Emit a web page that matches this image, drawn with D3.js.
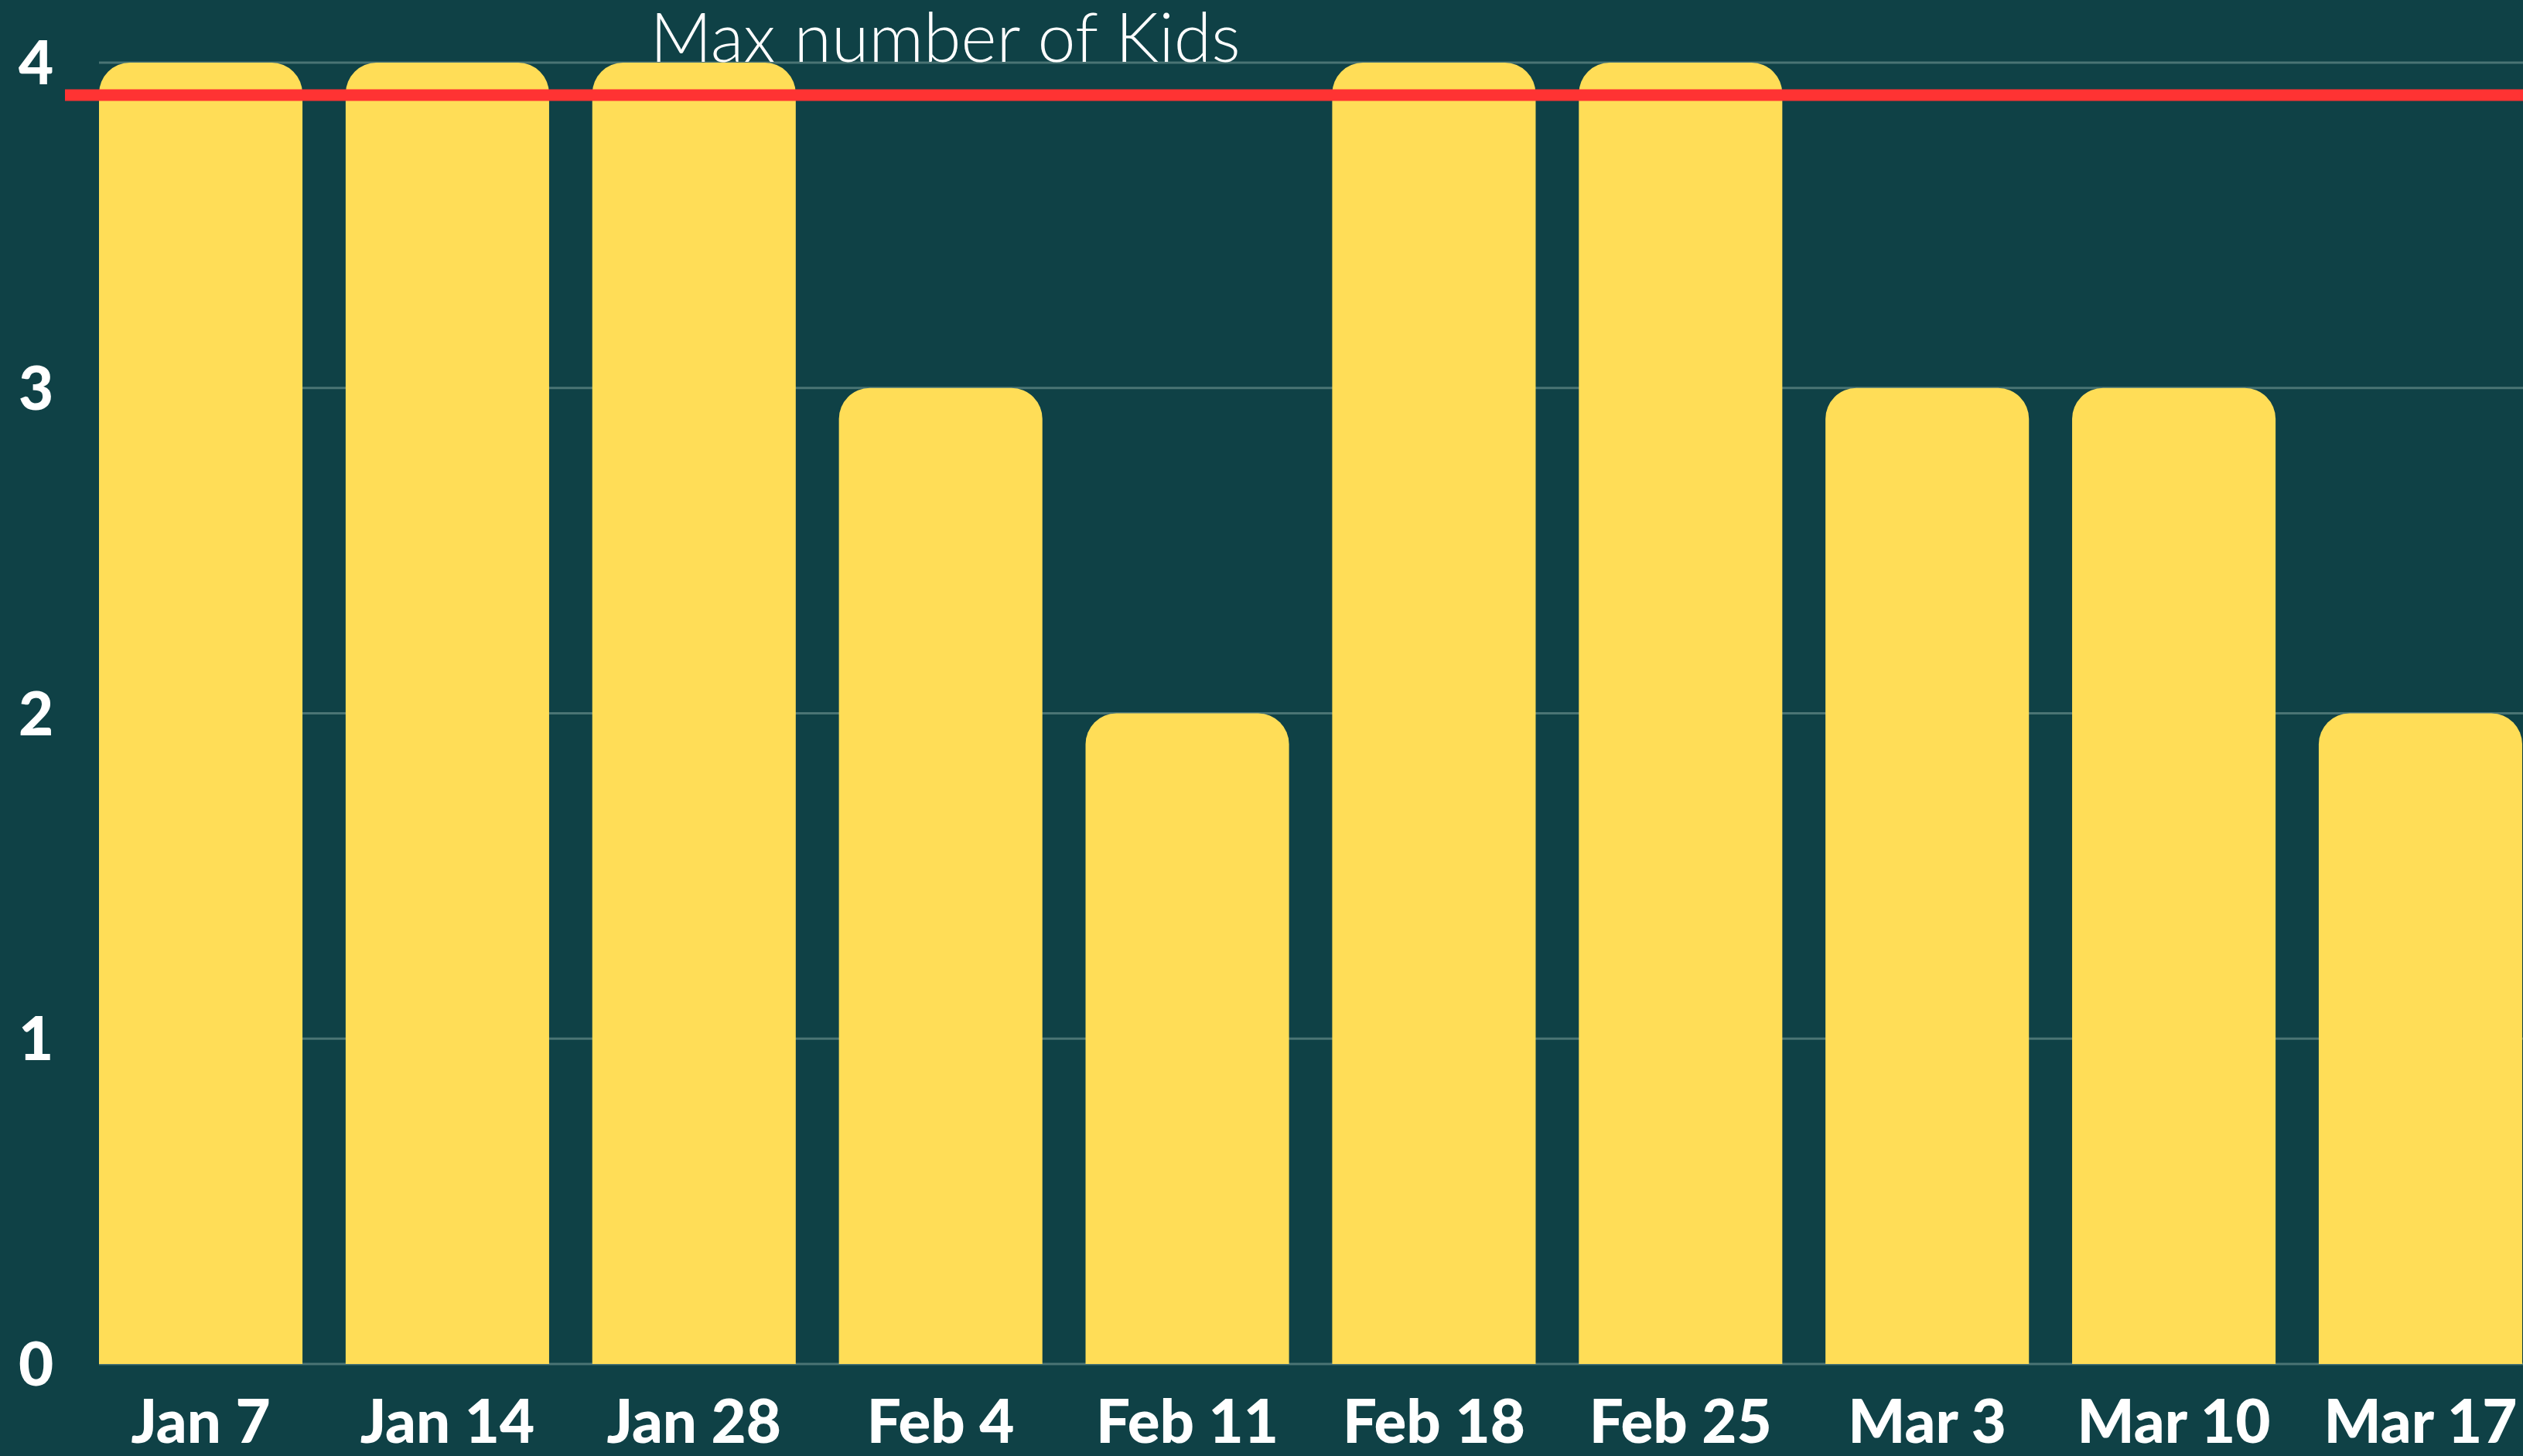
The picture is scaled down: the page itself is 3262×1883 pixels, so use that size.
<!DOCTYPE html>
<html><head><meta charset="utf-8">
<script src="https://cdn.jsdelivr.net/npm/d3@7"></script>
<style>html,body{margin:0;padding:0;background:#0f4146;}svg{display:block;}</style>
</head><body>
<svg id="chart" width="3262" height="1883"></svg>
<script>
const categories = ["Jan 7","Jan 14","Jan 28","Feb 4","Feb 11","Feb 18","Feb 25","Mar 3","Mar 10","Mar 17"];
const kids = [4,4,4,3,2,4,4,3,3,2];
const yTicks = [0,1,2,3,4];
const maxKids = 3.9;
const maxLabel = "Max number of Kids";

const W = 3262, H = 1883;
const svg = d3.select("#chart");
svg.append("rect").attr("width",W).attr("height",H).attr("fill","#0f4146");

const x = d3.scaleBand().domain(categories).range([128,3261]).paddingInner(0.175).paddingOuter(0);
const y = d3.scaleLinear().domain([0,4]).range([1764,81]);

// gridlines
svg.append("g").selectAll("line").data(yTicks).join("line")
  .attr("x1",128).attr("x2",W)
  .attr("y1",d=>y(d)).attr("y2",d=>y(d))
  .attr("stroke","#4a7474").attr("stroke-width",3);

// bars with rounded top corners
const r = 40;
function barPath(d,i){
  const x0 = x(categories[i]), w = x.bandwidth(), y0 = y(d), yb = y(0);
  const rr = Math.min(r, (yb-y0));
  return `M${x0},${yb}V${y0+rr}A${rr},${rr} 0 0 1 ${x0+rr},${y0}H${x0+w-rr}A${rr},${rr} 0 0 1 ${x0+w},${y0+rr}V${yb}Z`;
}
svg.append("g").selectAll("path").data(kids).join("path")
  .attr("d",(d,i)=>barPath(d,i)).attr("fill","#ffdd57");

// y axis labels
svg.append("g").selectAll("text").data(yTicks).join("text")
  .attr("x",24).attr("y",d=>y(d)).attr("dy","0.36em")
  .attr("text-anchor","start")
  .attr("font-family","Lato, sans-serif").attr("font-weight",900).attr("font-size",78)
  .attr("fill","#ffffff").text(d=>d);

// x axis labels
svg.append("g").selectAll("text").data(categories).join("text")
  .attr("x",d=>x(d)+x.bandwidth()/2).attr("y",1866)
  .attr("text-anchor","middle")
  .attr("font-family","Lato, sans-serif").attr("font-weight",900).attr("font-size",78)
  .attr("fill","#ffffff").text(d=>d);

// max line
svg.append("line").attr("x1",84).attr("x2",W)
  .attr("y1",y(maxKids)).attr("y2",y(maxKids))
  .attr("stroke","#ff3333").attr("stroke-width",15);

svg.append("text").attr("x",1222).attr("y",80).attr("text-anchor","middle")
  .attr("font-family","Lato, sans-serif").attr("font-weight",300).attr("font-size",88)
  .attr("fill","#ffffff").text(maxLabel);
</script>
</body></html>
